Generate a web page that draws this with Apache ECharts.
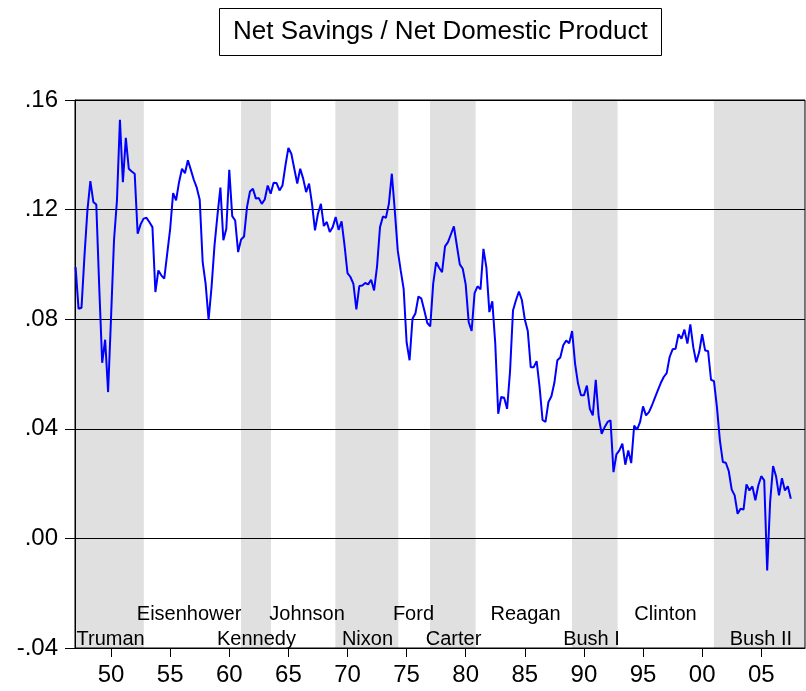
<!DOCTYPE html>
<html>
<head>
<meta charset="utf-8">
<title>Net Savings / Net Domestic Product</title>
<script src="https://cdn.jsdelivr.net/npm/echarts@6/dist/echarts.min.js"></script>
<style>
  html, body { margin: 0; padding: 0; background: #fff; }
  #chart { width: 806px; height: 691px; }
</style>
</head>
<body>
<div id="chart"></div>
<script>
// quarterly ratio, first value = 1947Q1
var startYear = 1947;
var netSavings = [
  0.0990, 0.0838, 0.0842, 0.1030,   // 1947
  0.1197, 0.1304, 0.1228, 0.1219,   // 1948
  0.0917, 0.0641, 0.0725, 0.0534,   // 1949
  0.0808, 0.1088, 0.1234, 0.1528,   // 1950
  0.1300, 0.1462, 0.1349, 0.1339,   // 1951
  0.1331, 0.1112, 0.1146, 0.1167,   // 1952
  0.1170, 0.1154, 0.1136, 0.0899,   // 1953
  0.0978, 0.0960, 0.0948, 0.1039,   // 1954
  0.1130, 0.1260, 0.1234, 0.1300,   // 1955
  0.1349, 0.1333, 0.1380, 0.1345,   // 1956
  0.1309, 0.1280, 0.1236, 0.1008,   // 1957
  0.0929, 0.0798, 0.0917, 0.1069,   // 1958
  0.1179, 0.1280, 0.1088, 0.1130,   // 1959
  0.1345, 0.1176, 0.1160, 0.1045,   // 1960
  0.1091, 0.1102, 0.1209, 0.1266,   // 1961
  0.1276, 0.1240, 0.1242, 0.1221,   // 1962
  0.1237, 0.1288, 0.1258, 0.1298,   // 1963
  0.1297, 0.1270, 0.1288, 0.1361,   // 1964
  0.1425, 0.1404, 0.1349, 0.1295,   // 1965
  0.1349, 0.1313, 0.1264, 0.1295,   // 1966
  0.1221, 0.1124, 0.1185, 0.1221,   // 1967
  0.1140, 0.1155, 0.1118, 0.1136,   // 1968
  0.1173, 0.1126, 0.1157, 0.1069,   // 1969
  0.0968, 0.0954, 0.0929, 0.0836,   // 1970
  0.0921, 0.0923, 0.0932, 0.0927,   // 1971
  0.0944, 0.0905, 0.0993, 0.1136,   // 1972
  0.1175, 0.1170, 0.1221, 0.1331,   // 1973
  0.1197, 0.1051, 0.0978, 0.0911,   // 1974
  0.0716, 0.0650, 0.0802, 0.0822,   // 1975
  0.0883, 0.0875, 0.0832, 0.0786,   // 1976
  0.0774, 0.0930, 0.1008, 0.0988,   // 1977
  0.0972, 0.1066, 0.1081, 0.1110,   // 1978
  0.1139, 0.1069, 0.1000, 0.0984,   // 1979
  0.0926, 0.0790, 0.0757, 0.0895,   // 1980
  0.0920, 0.0909, 0.1057, 0.0988,   // 1981
  0.0826, 0.0865, 0.0711, 0.0455,   // 1982
  0.0516, 0.0513, 0.0473, 0.0610,   // 1983
  0.0832, 0.0869, 0.0901, 0.0870,   // 1984
  0.0799, 0.0757, 0.0625, 0.0625,   // 1985
  0.0647, 0.0552, 0.0432, 0.0425,   // 1986
  0.0498, 0.0519, 0.0568, 0.0650,   // 1987
  0.0660, 0.0705, 0.0722, 0.0712,   // 1988
  0.0757, 0.0638, 0.0565, 0.0522,   // 1989
  0.0522, 0.0558, 0.0473, 0.0449,   // 1990
  0.0579, 0.0443, 0.0382, 0.0406,   // 1991
  0.0425, 0.0431, 0.0242, 0.0307,   // 1992
  0.0321, 0.0346, 0.0269, 0.0321,   // 1993
  0.0275, 0.0412, 0.0397, 0.0425,   // 1994
  0.0482, 0.0449, 0.0461, 0.0485,   // 1995
  0.0513, 0.0540, 0.0567, 0.0589,   // 1996
  0.0603, 0.0662, 0.0690, 0.0692,   // 1997
  0.0745, 0.0729, 0.0762, 0.0711,   // 1998
  0.0781, 0.0698, 0.0643, 0.0680,   // 1999
  0.0745, 0.0686, 0.0684, 0.0579,   // 2000
  0.0574, 0.0479, 0.0358, 0.0279,   // 2001
  0.0276, 0.0246, 0.0178, 0.0157,   // 2002
  0.0090, 0.0108, 0.0105, 0.0197,   // 2003
  0.0175, 0.0190, 0.0139, 0.0193,   // 2004
  0.0227, 0.0212, -0.0117, 0.0133,  // 2005
  0.0264, 0.0227, 0.0157, 0.0220,   // 2006
  0.0175, 0.0190, 0.0145            // 2007
];

// shaded terms [start, end]
var shadedTerms = [
  [1946.95, 1952.77],
  [1960.99, 1963.53],
  [1968.97, 1974.30],
  [1976.98, 1980.84],
  [1988.99, 1992.85],
  [2000.99, 2008.70]
];

// president names, label x (year), row (0 = upper, 1 = lower)
var presidents = ['Truman', 'Eisenhower', 'Kennedy', 'Johnson', 'Nixon', 'Ford',
                  'Carter', 'Reagan', 'Bush I', 'Clinton', 'Bush II'];
var presidentX = [1949.96, 1956.6, 1962.3, 1966.58, 1971.69, 1975.58,
                  1978.97, 1985.06, 1990.64, 1996.9, 2004.97];
var presidentRow = [1, 0, 1, 0, 1, 0, 1, 0, 1, 0, 1];
var rowValue = [-0.0276, -0.0369];

var yearTicks = [1950, 1955, 1960, 1965, 1970, 1975, 1980, 1985, 1990, 1995, 2000, 2005];
var xMin = 1946.95, xMax = 2008.7;
var yMin = -0.04, yMax = 0.16;

var lineData = netSavings.map(function (v, i) { return [startYear + i / 4, v]; });
var labelData = presidents.map(function (n, i) {
  return { name: n, value: [presidentX[i], rowValue[presidentRow[i]]] };
});

var font = 'Liberation Sans, Arial, sans-serif';

var myChart = echarts.init(document.getElementById('chart'));
myChart.setOption({
  backgroundColor: '#fff',
  animation: false,
  title: {
    text: 'Net Savings / Net Domestic Product',
    left: 219,
    top: 8,
    padding: [11, 14],
    borderColor: '#000',
    borderWidth: 1,
    textStyle: { fontFamily: font, fontSize: 26, fontWeight: 'normal', color: '#000' }
  },
  grid: {
    left: 75, right: 1, top: 100, bottom: 43,
    show: true, borderColor: '#000', borderWidth: 1,
    backgroundColor: 'transparent'
  },
  xAxis: {
    type: 'value',
    min: xMin,
    max: xMax,
    splitLine: { show: false },
    axisLine: { show: true, onZero: false, lineStyle: { color: '#000', width: 1 } },
    axisTick: { show: true, length: 9, customValues: yearTicks, lineStyle: { color: '#000' } },
    axisLabel: {
      customValues: yearTicks,
      margin: 15,
      fontFamily: font, fontSize: 24, color: '#000',
      formatter: function (v) { var s = String(Math.round(v) % 100); return s.length < 2 ? '0' + s : s; }
    }
  },
  yAxis: {
    type: 'value',
    min: yMin,
    max: yMax,
    interval: 0.04,
    splitLine: { show: true, lineStyle: { color: '#000', width: 1 } },
    axisLine: { show: true, lineStyle: { color: '#000', width: 1 } },
    axisTick: { show: true, length: 10, lineStyle: { color: '#000' } },
    axisLabel: {
      margin: 17,
      fontFamily: font, fontSize: 24, color: '#000',
      formatter: function (v) { return v.toFixed(2).replace('0.', '.'); }
    }
  },
  series: [
    {
      // gray bands behind the grid lines
      type: 'custom',
      z: -1,
      silent: true,
      data: shadedTerms,
      renderItem: function (params, api) {
        var p0 = api.coord([api.value(0), yMax]);
        var p1 = api.coord([api.value(1), yMin]);
        var rect = echarts.graphic.clipRectByRect(
          { x: p0[0], y: p0[1], width: p1[0] - p0[0], height: p1[1] - p0[1] },
          { x: params.coordSys.x, y: params.coordSys.y, width: params.coordSys.width, height: params.coordSys.height }
        );
        return rect && { type: 'rect', shape: rect, style: { fill: '#e0e0e0' } };
      }
    },
    {
      type: 'line',
      data: lineData,
      showSymbol: false,
      symbol: 'none',
      z: 3,
      lineStyle: { color: '#0000ff', width: 2 }
    },
    {
      type: 'scatter',
      data: labelData,
      symbolSize: 0,
      silent: true,
      z: 4,
      itemStyle: { opacity: 1 },
      label: {
        show: true,
        position: 'inside',
        formatter: '{b}',
        fontFamily: font,
        fontSize: 20,
        color: '#000',
        opacity: 1
      }
    }
  ]
});
</script>
</body>
</html>
